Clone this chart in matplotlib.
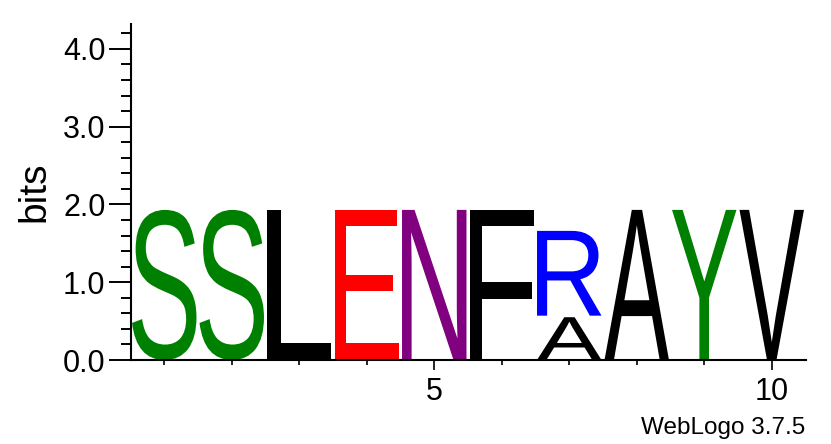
import matplotlib
matplotlib.use('Agg')
import matplotlib.pyplot as plt
from matplotlib.textpath import TextPath
from matplotlib.font_manager import FontProperties
from matplotlib.patches import PathPatch
from matplotlib.transforms import Affine2D
from matplotlib.ticker import FixedLocator, MultipleLocator

# ---- data ----
positions = [1, 2, 3, 4, 5, 6, 7, 8, 9, 10]
stack_letters = [['S'], ['S'], ['L'], ['E'], ['N'], ['F'], ['A', 'R'], ['A'], ['Y'], ['V']]
stack_heights = [[1.95], [1.95], [1.95], [1.95], [1.95], [1.95], [0.57, 1.11], [1.95], [1.95], [1.95]]
letter_colors = {'S': '#008000', 'Y': '#008000', 'L': 'black', 'F': 'black', 'A': 'black',
                 'V': 'black', 'E': '#ff0000', 'N': '#800080', 'R': '#0000ff'}
xtick_major = [5, 10]
xtick_labels = ['5', '10']
ytick_major = [0, 1, 2, 3, 4]
ytick_labels = ['0.0', '1.0', '2.0', '3.0', '4.0']
y_max = 4.32

plt.rcParams['font.family'] = ['Liberation Sans', 'DejaVu Sans']

fig = plt.figure(figsize=(8.31, 4.44), dpi=100)
ax = fig.add_axes([130.5 / 831, 84 / 444, 675 / 831, (360 - 24) / 444])

glyph_font = FontProperties(family='Liberation Sans')
letter_width = 0.955
gap = 0.02


def draw_letter(ch, xc, y0, h, color):
    tp = TextPath((0, 0), ch, size=1, prop=glyph_font)
    ext = tp.get_extents()
    gh = h - gap
    tr = (Affine2D().translate(-ext.x0, -ext.y0)
          .scale(letter_width / ext.width, gh / ext.height)
          .translate(xc - letter_width / 2, y0))
    ax.add_patch(PathPatch(tr.transform_path(tp), facecolor=color, edgecolor='none', lw=0))


for pos, letters, heights in zip(positions, stack_letters, stack_heights):
    y = 0.0
    for ch, h in zip(letters, heights):
        draw_letter(ch, pos, y, h, letter_colors[ch])
        y += h

ax.set_xlim(0.5, 10.5)
ax.set_ylim(0, y_max)

for s in ['top', 'right']:
    ax.spines[s].set_visible(False)
for s in ['left', 'bottom']:
    ax.spines[s].set_linewidth(1.5)
    ax.spines[s].set_color('black')

ax.xaxis.set_major_locator(FixedLocator(xtick_major))
ax.set_xticklabels(xtick_labels)
ax.xaxis.set_minor_locator(FixedLocator([p for p in positions if p not in xtick_major]))
ax.yaxis.set_major_locator(FixedLocator(ytick_major))
ax.set_yticklabels(ytick_labels)
ax.yaxis.set_minor_locator(MultipleLocator(0.2))

ax.tick_params(axis='y', which='major', direction='out', length=16, width=1.4,
               labelsize=22, pad=2)
ax.tick_params(axis='y', which='minor', direction='out', length=7.2, width=1.4)
ax.tick_params(axis='x', which='major', direction='out', length=7.2, width=1.2,
               labelsize=22, pad=5)
ax.tick_params(axis='x', which='minor', direction='out', length=3.6, width=1.2)

fig.text(34 / 831, 1 - 192 / 444, 'bits', rotation=90, ha='center', va='center', fontsize=28)
fig.text(805 / 831, 1 - 428 / 444, 'WebLogo 3.7.5', ha='right', va='center', fontsize=17.5)

fig.savefig('out.png', dpi=100)
